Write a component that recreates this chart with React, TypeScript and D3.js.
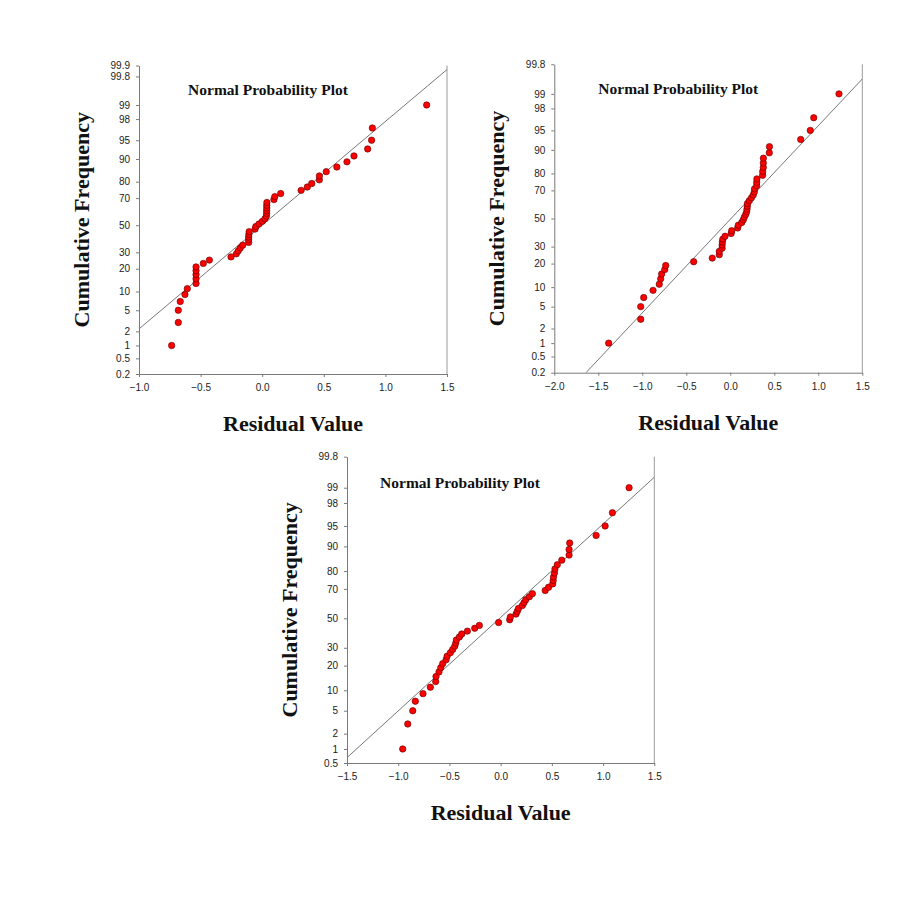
import React, { useEffect, useRef } from "react";
import * as d3 from "d3";

// plotting positions (cumulative %), same 50 ranks in every panel
const cumPct = [
  1, 3, 5, 7, 9, 11, 13, 15, 17, 19, 21, 23, 25, 27, 29, 31, 33, 35, 37, 39,
  41, 43, 45, 47, 49, 51, 53, 55, 57, 59, 61, 63, 65, 67, 69, 71, 73, 75, 77,
  79, 81, 83, 85, 87, 89, 91, 93, 95, 97, 99,
];

// sorted residuals
const residualsA = [
  -0.735, -0.681, -0.681, -0.665, -0.627, -0.608, -0.537, -0.537, -0.537,
  -0.537, -0.537, -0.478, -0.429, -0.253, -0.21, -0.194, -0.178, -0.158, -0.11,
  -0.11, -0.11, -0.108, -0.106, -0.058, -0.052, -0.026, 0.001, 0.023, 0.034,
  0.036, 0.036, 0.037, 0.037, 0.038, 0.095, 0.102, 0.15, 0.316, 0.366, 0.402,
  0.464, 0.464, 0.52, 0.606, 0.688, 0.745, 0.856, 0.888, 0.894, 1.335,
];
const residualsB = [
  -1.382, -1.018, -1.018, -0.984, -0.878, -0.807, -0.791, -0.78, -0.745,
  -0.734, -0.416, -0.205, -0.125, -0.125, -0.093, -0.093, -0.09, -0.085, -0.06,
  0.01, 0.016, 0.084, 0.091, 0.13, 0.148, 0.159, 0.175, 0.186, 0.19, 0.193,
  0.195, 0.216, 0.24, 0.261, 0.273, 0.275, 0.3, 0.3, 0.302, 0.367, 0.368,
  0.375, 0.375, 0.376, 0.443, 0.445, 0.8, 0.909, 0.948, 1.235,
];
const residualsC = [
  -0.956, -0.907, -0.858, -0.833, -0.758, -0.686, -0.634, -0.631, -0.602,
  -0.585, -0.566, -0.533, -0.523, -0.491, -0.468, -0.448, -0.438, -0.432,
  -0.403, -0.38, -0.325, -0.253, -0.208, -0.02, 0.088, 0.095, 0.15, 0.163,
  0.174, 0.212, 0.228, 0.245, 0.28, 0.31, 0.435, 0.468, 0.508, 0.513, 0.516,
  0.525, 0.53, 0.553, 0.597, 0.668, 0.668, 0.674, 0.932, 1.02, 1.091, 1.254,
];

// fitted normal line, endpoints as [residual, cumulative %]
const fitA = [[-1.0, 2.24], [1.5, 99.87]];
const fitB = [[-1.64, 0.2], [1.5, 99.54]];
const fitC = [[-1.5, 0.657], [1.5, 99.4]];

const xTicksA = [-1.0, -0.5, 0.0, 0.5, 1.0, 1.5];
const xTicksB = [-2.0, -1.5, -1.0, -0.5, 0.0, 0.5, 1.0, 1.5];
const xTicksC = [-1.5, -1.0, -0.5, 0.0, 0.5, 1.0, 1.5];

const yTicksA = [0.2, 0.5, 1, 2, 5, 10, 20, 30, 50, 70, 80, 90, 95, 98, 99, 99.8, 99.9];
const yTicksB = [0.2, 0.5, 1, 2, 5, 10, 20, 30, 50, 70, 80, 90, 95, 98, 99, 99.8];
const yTicksC = [0.5, 1, 2, 5, 10, 20, 30, 50, 70, 80, 90, 95, 98, 99, 99.8];

const title = "Normal Probability Plot";
const xLabel = "Residual Value";
const yLabel = "Cumulative Frequency";

// inverse normal CDF (Acklam)
function probit(p: number) {
  const a = [-39.69683028665376, 220.9460984245205, -275.9285104469687, 138.357751867269, -30.66479806614716, 2.506628277459239];
  const b = [-54.47609879822406, 161.5858368580409, -155.6989798598866, 66.80131188771972, -13.28068155288572];
  const c = [-0.007784894002430293, -0.3223964580411365, -2.400758277161838, -2.549732539343734, 4.374664141464968, 2.938163982698783];
  const d = [0.007784695709041462, 0.3224671290700398, 2.445134137142996, 3.754408661907416];
  const plow = 0.02425;
  if (p < plow) {
    const q = Math.sqrt(-2 * Math.log(p));
    return (((((c[0] * q + c[1]) * q + c[2]) * q + c[3]) * q + c[4]) * q + c[5]) /
      ((((d[0] * q + d[1]) * q + d[2]) * q + d[3]) * q + 1);
  }
  if (p > 1 - plow) {
    const q = Math.sqrt(-2 * Math.log(1 - p));
    return -(((((c[0] * q + c[1]) * q + c[2]) * q + c[3]) * q + c[4]) * q + c[5]) /
      ((((d[0] * q + d[1]) * q + d[2]) * q + d[3]) * q + 1);
  }
  const q = p - 0.5;
  const r = q * q;
  return (((((a[0] * r + a[1]) * r + a[2]) * r + a[3]) * r + a[4]) * r + a[5]) * q /
    (((((b[0] * r + b[1]) * r + b[2]) * r + b[3]) * r + b[4]) * r + 1);
}

const panels = [
  { id: "a", left: 139, top: 65.5, width: 308, height: 308.5, xTicks: xTicksA, yTicks: yTicksA, residuals: residualsA, fit: fitA, titleDx: 129 },
  { id: "b", left: 554.3, top: 64.3, width: 308, height: 308.4, xTicks: xTicksB, yTicks: yTicksB, residuals: residualsB, fit: fitB, titleDx: 124 },
  { id: "c", left: 347, top: 456.7, width: 307.3, height: 306.3, xTicks: xTicksC, yTicks: yTicksC, residuals: residualsC, fit: fitC, titleDx: 113 },
];

const App = () => {
  const svgRef = useRef<SVGSVGElement>(null);

  useEffect(() => {
    const svg = d3.select(svgRef.current);
    svg.selectAll("*").remove();

    panels.forEach((p) => {
      const g = svg.append("g").attr("transform", `translate(${p.left},${p.top})`);
      const w = p.width;
      const h = p.height;

      const x = d3
        .scaleLinear()
        .domain([p.xTicks[0], p.xTicks[p.xTicks.length - 1]])
        .range([0, w]);
      const y = d3
        .scaleLinear()
        .domain([probit(p.yTicks[0] / 100), probit(p.yTicks[p.yTicks.length - 1] / 100)])
        .range([h, 0]);

      g.append("clipPath")
        .attr("id", `clip-${p.id}`)
        .append("rect")
        .attr("width", w)
        .attr("height", h);

      // right border
      g.append("line")
        .attr("x1", w)
        .attr("x2", w)
        .attr("y1", 0)
        .attr("y2", h)
        .attr("stroke", "#9a9a9a")
        .attr("stroke-width", 1);

      // y axis
      const yAxis = g
        .append("g")
        .call(
          d3
            .axisLeft(y)
            .tickValues(p.yTicks.map((t) => probit(t / 100)))
            .tickFormat((_, i) => String(p.yTicks[i]))
            .tickSizeInner(3)
            .tickSizeOuter(0)
            .tickPadding(6)
        );

      // x axis
      const xAxis = g
        .append("g")
        .attr("transform", `translate(0,${h})`)
        .call(
          d3
            .axisBottom(x)
            .tickValues(p.xTicks)
            .tickFormat(d3.format(".1f"))
            .tickSizeInner(3)
            .tickSizeOuter(0)
            .tickPadding(7)
        );

      [yAxis, xAxis].forEach((ax) => {
        ax.select(".domain").attr("stroke", "#7a7a7a");
        ax.selectAll(".tick line").attr("stroke", "#7a7a7a");
        ax.selectAll(".tick text")
          .attr("fill", "#222")
          .style("font-family", "'Liberation Sans', Arial, sans-serif")
          .style("font-size", "10px");
      });

      // fitted line
      g.append("line")
        .attr("clip-path", `url(#clip-${p.id})`)
        .attr("x1", x(p.fit[0][0]))
        .attr("y1", y(probit(p.fit[0][1] / 100)))
        .attr("x2", x(p.fit[1][0]))
        .attr("y2", y(probit(p.fit[1][1] / 100)))
        .attr("stroke", "#777")
        .attr("stroke-width", 1);

      // points
      g.selectAll("circle.pt")
        .data(p.residuals.map((r, i) => ({ r, pct: cumPct[i] })))
        .enter()
        .append("circle")
        .attr("class", "pt")
        .attr("cx", (d) => x(d.r))
        .attr("cy", (d) => y(probit(d.pct / 100)))
        .attr("r", 3.2)
        .attr("fill", "#ff0000")
        .attr("stroke", "#5a0000")
        .attr("stroke-width", 0.6);

      // panel title
      g.append("text")
        .attr("x", p.titleDx)
        .attr("y", p.id === "c" ? 31 : 29.5)
        .attr("text-anchor", "middle")
        .style("font-family", "'Liberation Serif', 'Times New Roman', serif")
        .style("font-weight", "bold")
        .style("font-size", "15.5px")
        .attr("fill", "#111")
        .text(title);

      // axis titles
      g.append("text")
        .attr("x", w / 2)
        .attr("y", h + 57)
        .attr("text-anchor", "middle")
        .style("font-family", "'Liberation Serif', 'Times New Roman', serif")
        .style("font-weight", "bold")
        .style("font-size", "22px")
        .attr("fill", "#111")
        .text(xLabel);

      g.append("text")
        .attr("transform", `translate(-50,${h / 2}) rotate(-90)`)
        .attr("text-anchor", "middle")
        .style("font-family", "'Liberation Serif', 'Times New Roman', serif")
        .style("font-weight", "bold")
        .style("font-size", "22px")
        .attr("fill", "#111")
        .text(yLabel);
    });
  }, []);

  return (
    <div style={{ position: "absolute", left: 0, top: 0, width: 918, height: 912, background: "#fff" }}>
      <svg ref={svgRef} width={918} height={912} />
    </div>
  );
};

export default App;
